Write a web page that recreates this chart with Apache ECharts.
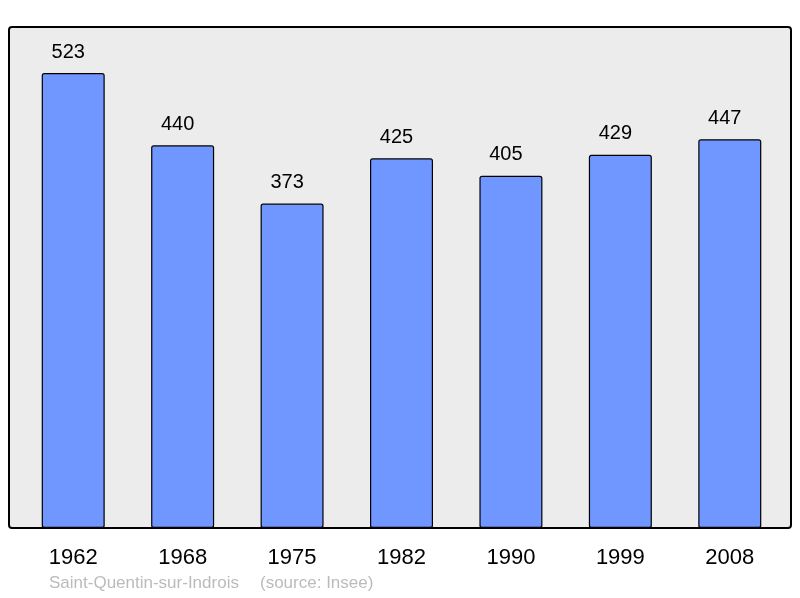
<!DOCTYPE html>
<html>
<head>
<meta charset="utf-8">
<script src="https://cdn.jsdelivr.net/npm/echarts@6/dist/echarts.min.js"></script>
<style>html,body{margin:0;padding:0;background:#fff;}#c{width:800px;height:598px;}</style>
</head>
<body>
<div id="c"></div>
<script>
var years = ['1962','1968','1975','1982','1990','1999','2008'];
var population = [523, 440, 373, 425, 405, 429, 447];
var footerName = 'Saint-Quentin-sur-Indrois';
var footerSource = '(source: Insee)';

var chart = echarts.init(document.getElementById('c'), null, {renderer: 'canvas'});
chart.setOption({
  animation: false,
  backgroundColor: '#ffffff',
  graphic: [
    {type: 'rect', z: -10, shape: {x: 9, y: 27, width: 782, height: 501, r: 3},
     style: {fill: '#ececec', stroke: '#000', lineWidth: 2}},
    {type: 'text', left: 49, top: 575, style: {text: footerName, fill: '#bbbbbb', font: '17px "Liberation Sans", Arial, sans-serif'}},
    {type: 'text', left: 260, top: 575, style: {text: footerSource, fill: '#bbbbbb', font: '17px "Liberation Sans", Arial, sans-serif'}}
  ],
  grid: {left: 18.5, width: 766, top: 27, height: 501, containLabel: false},
  xAxis: {
    type: 'category', data: years,
    axisLine: {show: false}, axisTick: {show: false},
    axisLabel: {color: '#000', fontSize: 22, margin: 19, fontFamily: '"Liberation Sans", Arial, sans-serif'}
  },
  yAxis: {type: 'value', min: 0, max: 576, show: false, splitLine: {show: false}},
  series: [{
    type: 'bar', data: population, barWidth: 63,
    itemStyle: {color: '#7096ff', borderColor: '#000', borderWidth: 1.2, borderRadius: 2},
    label: {show: true, position: 'top', distance: 11, offset: [-5, 0], color: '#000', fontSize: 20, fontFamily: '"Liberation Sans", Arial, sans-serif'}
  }]
});
</script>
</body>
</html>
